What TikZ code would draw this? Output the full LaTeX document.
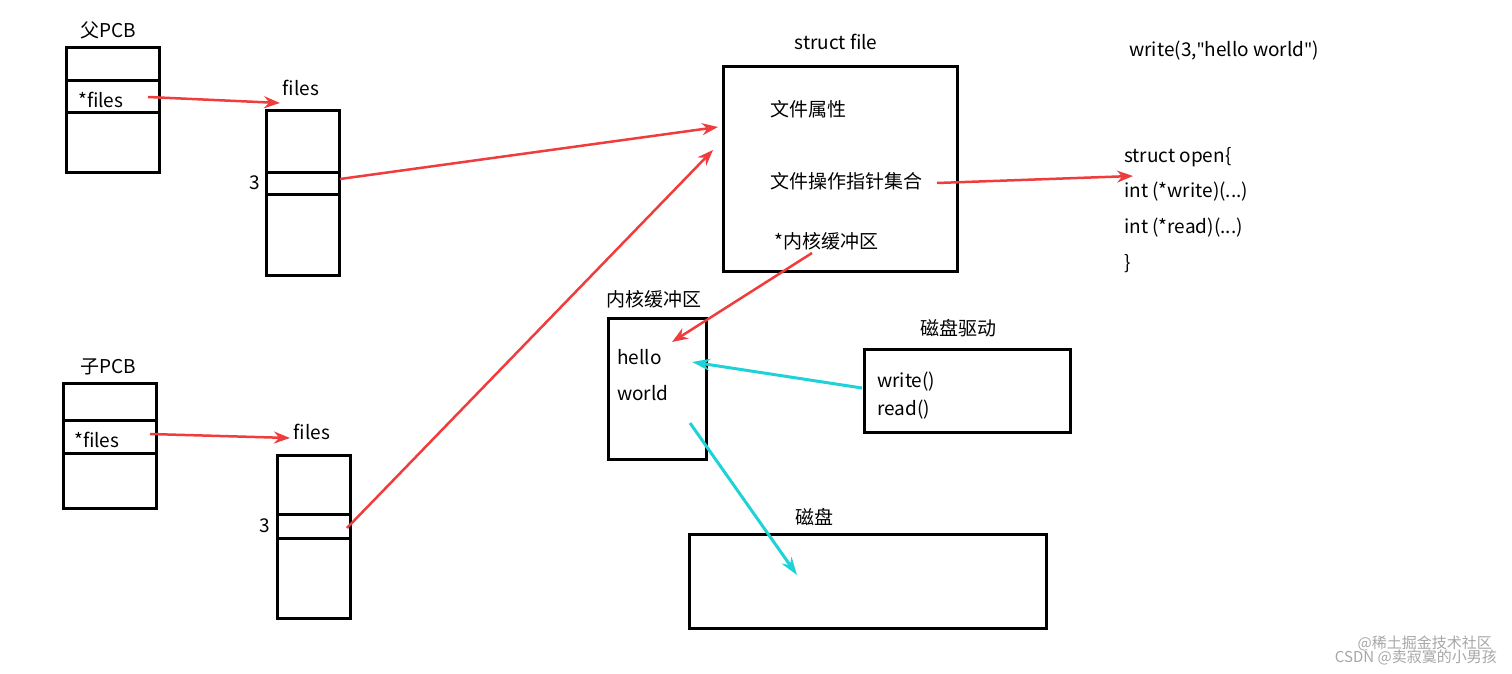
\documentclass[tikz,border=0pt]{standalone}
\usepackage{fontspec}
\setmainfont{Noto Sans CJK SC}
\newfontfamily\lat{Noto Sans}
\usetikzlibrary{arrows.meta}
\definecolor{ared}{RGB}{240,60,60}
\definecolor{acyan}{RGB}{30,210,215}
\begin{document}
\begin{tikzpicture}[x=1pt,y=-1pt,
  bx/.style={draw,line width=3pt},
  lb/.style={font=\fontsize{19}{22}\selectfont,inner sep=0pt},
  ll/.style={lb,anchor=west},
  ra/.style={draw=ared,line width=2.5pt,-{Stealth[length=16pt,width=12pt]}},
  ca/.style={draw=acyan,line width=3pt,-{Stealth[length=18pt,width=12pt]}},
  wm/.style={font=\fontsize{15}{17}\selectfont,text=gray!70,anchor=east,inner sep=0pt}]
\useasboundingbox (0,0) rectangle (1512,674);
% parent PCB
\node[lb] (pl) at (108,30) {父PCB};
\draw[bx] (66,48) rectangle (159,172);
\draw[bx] (66,81) -- (159,81) (66,113) -- (159,113);
\node[ll] (pf) at (78,100) {*files};
\node[lb] (f1l) at (301,88) {files};
\draw[bx] (266,111) rectangle (339,275);
\draw[bx] (266,172) -- (339,172) (266,194) -- (339,194);
\node[lb] (n31) at (255,183) {3};
% child PCB
\node[lb] (cl) at (108,367) {子PCB};
\draw[bx] (63,383) rectangle (156,508);
\draw[bx] (63,420) -- (156,420) (63,453) -- (156,453);
\node[ll] (cf) at (74,440) {*files};
\node[lb] (f2l) at (312,432) {files};
\draw[bx] (277,455) rectangle (350,618);
\draw[bx] (277,514) -- (350,514) (277,538) -- (350,538);
\node[lb] (n32) at (265,526) {3};
% struct file
\node[lb] (sfl) at (836,42) {struct file};
\draw[bx] (723,67) rectangle (957,271);
\node[ll] (a1) at (770,109) {文件属性};
\node[ll] (a2) at (770,181) {文件操作指针集合};
\node[ll] (a3) at (774,241) {*内核缓冲区};
\node[lb] (wr) at (1224,51) {write(3,{\lat\symbol{34}}hello world{\lat\symbol{34}})};
\node[ll] (o1) at (1124,157) {struct open\{};
\node[ll] (o2) at (1124,192) {int (*write)(...)};
\node[ll] (o3) at (1124,228) {int (*read)(...)};
\node[ll] (o4) at (1124,264) {\}};
% kernel buffer
\node[lb] (kbl) at (654,299) {内核缓冲区};
\draw[bx] (608,318) rectangle (706,459);
\node[ll] (h) at (617,357) {hello};
\node[ll] (w) at (617,393) {world};
% driver
\node[lb] (dl) at (958,328) {磁盘驱动};
\draw[bx] (864,349) rectangle (1070,432);
\node[ll] (d1) at (877,382) {write()};
\node[ll] (d2) at (877,410) {read()};
% disk
\node[lb] (dk) at (814,517) {磁盘};
\draw[bx] (689,534) rectangle (1046,628);
% arrows
\coordinate (e1) at (280,103);
\coordinate (e2) at (718,127);
\coordinate (e3) at (713,150);
\coordinate (e4) at (1133,176);
\coordinate (e5) at (672,342);
\coordinate (e6) at (290,438);
\coordinate (e7) at (692,362);
\coordinate (e8) at (797,575);
\draw[ra] (148,97) -- (e1);
\draw[ra] (340,179) -- (e2);
\draw[ra] (347,528) -- (e3);
\draw[ra] (937,183) -- (e4);
\draw[ra] (812,253) -- (e5);
\draw[ra] (150,434) -- (e6);
\draw[ca] (862,388) -- (e7);
\draw[ca] (690,423) -- (e8);
% watermark
\node[wm] (wm1) at (1492,643) {@稀土掘金技术社区};
\node[wm] (wm2) at (1497,657) {CSDN @卖寂寞的小男孩};
\end{tikzpicture}
\end{document}
